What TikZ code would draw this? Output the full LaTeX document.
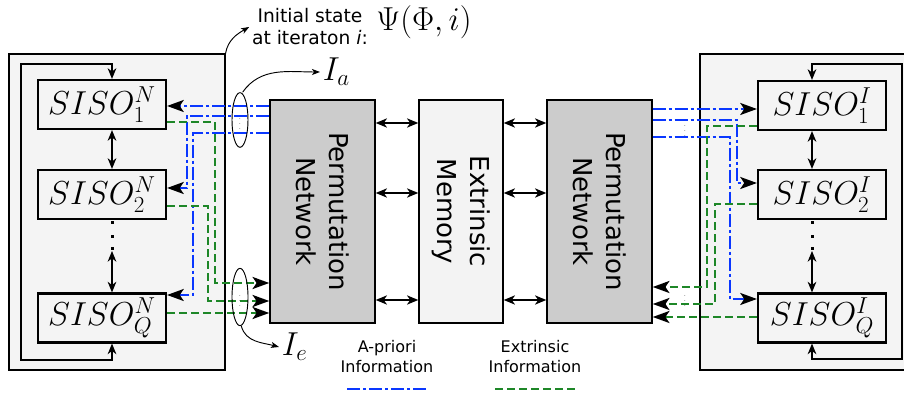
\documentclass[tikz,border=0pt]{standalone}
\usepackage{fontspec}
\newfontfamily\dejavu{DejaVu Sans}
\usetikzlibrary{arrows.meta,positioning,shapes.geometric}
\definecolor{apblue}{RGB}{10,55,255}
\definecolor{exgreen}{RGB}{30,135,40}
\definecolor{panelgray}{RGB}{244,244,244}
\definecolor{netgray}{RGB}{204,204,204}
\definecolor{memgray}{RGB}{243,243,243}
\tikzset{
  panel/.style={draw, line width=0.8pt, fill=panelgray, inner sep=0pt},
  siso/.style={draw, line width=1.6pt, fill=panelgray, minimum width=96pt,
    minimum height=36.75pt, inner sep=0pt, font=\fontsize{24.5}{28}\selectfont},
  netbox/.style={draw, line width=1.1pt, fill=netgray, minimum width=78.75pt,
    minimum height=167.25pt, inner sep=0pt},
  membox/.style={netbox, fill=memgray, minimum width=63pt},
  rottext/.style={rotate=-90, align=center, font=\dejavu\fontsize{19.5}{24.5}\selectfont},
  apriori/.style={apblue, line width=1.8pt,
    dash pattern=on 9.75pt off 2.25pt on 2.25pt off 2.25pt},
  extr/.style={exgreen, line width=1.8pt, dash pattern=on 6pt off 3pt},
  flow/.style={-{Stealth[length=12.5pt,width=9pt,inset=3pt,color=black]}},
  dbl/.style={line width=0.9pt, {Stealth[length=8.5pt,width=7pt,inset=2.5pt]}-{Stealth[length=8.5pt,width=7pt,inset=2.5pt]}},
  feedback/.style={line width=1.1pt, {Stealth[length=8pt,width=6.5pt,inset=2.5pt]}-{Stealth[length=8pt,width=6.5pt,inset=2.5pt]}},
  ell/.style={draw, ellipse, line width=0.7pt, minimum width=12pt, inner sep=0pt},
  pointer/.style={line width=0.7pt, -{Stealth[length=6pt,width=4.5pt,inset=1.5pt]}},
  smalltext/.style={font=\dejavu\fontsize{14}{16.5}\selectfont, align=center, inner sep=2pt},
  legtext/.style={font=\dejavu\fontsize{12}{15}\selectfont, align=center}
}
\begin{document}
\begin{tikzpicture}[x=0.75pt,y=-0.75pt]
  \useasboundingbox (0,0) rectangle (904,398);
  % panels with the decoders
  \node[panel, minimum width=162pt, minimum height=237pt] (panN) at (117,212) {};
  \node[panel, minimum width=159pt, minimum height=237pt] (panI) at (806,212) {};
  % decoders, left
  \node[siso] (s1) at (102,104.5) {$SISO_1^N$};
  \node[siso] (s2) at (102,194.5) {$SISO_2^N$};
  \node[siso] (sQ) at (102,318) {$SISO_Q^N$};
  % decoders, right
  \node[siso] (t1) at (822,105.5) {$SISO_1^I$};
  \node[siso] (t2) at (822,194.5) {$SISO_2^I$};
  \node[siso] (tQ) at (822,318) {$SISO_Q^I$};
  % middle blocks
  \node[netbox] (pnL) at (322.5,211.5) {};
  \node[rottext] at (pnL.center) {Permutation\\Network};
  \node[membox] (mem) at (461,211.5) {};
  \node[rottext] at (mem.center) {Extrinsic\\Memory};
  \node[netbox] (pnR) at (599.5,211.5) {};
  \node[rottext] at (pnR.center) {Permutation\\Network};
  % memory access
  \foreach \yy in {123,193,300} {
    \draw[dbl] (pnL.east |- 0,\yy) -- (mem.west |- 0,\yy);
    \draw[dbl] (mem.east |- 0,\yy) -- (pnR.west |- 0,\yy);
  }
  % feedback loops
  \draw[feedback] ([xshift=7.5pt]s1.north) |- (21,64) |- (112,360)
    -- ([xshift=7.5pt]sQ.south);
  \draw[feedback] ([xshift=-7.5pt]t1.north) |- (902,64) |- (812,359)
    -- ([xshift=-7.5pt]tQ.south);
  % chain of decoders
  \draw[feedback] ([xshift=7.5pt]s1.south) -- ([xshift=7.5pt]s2.north);
  \draw[feedback] ([xshift=7.5pt]sQ.north) -- (112,251);
  \draw[feedback] ([xshift=-7.5pt]t1.south) -- ([xshift=-7.5pt]t2.north);
  \draw[feedback] ([xshift=-7.5pt]tQ.north) -- (812,251);
  \foreach \yy in {223,237,249} {
    \fill (110.5,\yy-1.5) rectangle ++(3,3);
    \fill (810.5,\yy-1.5) rectangle ++(3,3);
  }
  % a-priori information, left
  \draw[apriori,flow] (pnL.west |- 0,106) -- (s1.east |- 0,106);
  \draw[apriori,flow] (pnL.west |- 0,116) -| (187,188) -- (s2.east |- 0,188);
  \draw[apriori,flow] (pnL.west |- 0,133) -| (193,295) -- (sQ.east |- 0,295);
  % extrinsic information, left
  \draw[extr,flow] (s1.east |- 0,122) -| (215,283) -- (pnL.west |- 0,283);
  \draw[extr,flow] (s2.east |- 0,206) -| (208,301) -- (pnL.west |- 0,301);
  \draw[extr,flow] (sQ.east |- 0,313) -- (pnL.west |- 0,313);
  % a-priori information, right
  \draw[apriori,flow] (pnR.east |- 0,109) -- (t1.west |- 0,109);
  \draw[apriori,flow] (pnR.east |- 0,120) -| (737,183) -- (t2.west |- 0,183);
  \draw[apriori,flow] (pnR.east |- 0,137) -| (730,299) -- (tQ.west |- 0,299);
  % extrinsic information, right
  \draw[extr,flow] (t1.west |- 0,126) -| (707,287) -- (pnR.east |- 0,287);
  \draw[extr,flow] (t2.west |- 0,204) -| (715,304) -- (pnR.east |- 0,304);
  \draw[extr,flow] (tQ.west |- 0,317) -- (pnR.east |- 0,317);
  \node[font=\tiny] at (685,127) {$\vdots$};
  \node[font=\tiny] at (685,297) {$\vdots$};
  % bundles
  \node[ell, minimum height=41pt] (bunA) at (240,120) {\tiny$\vdots$};
  \node[ell, minimum height=43pt] (bunE) at (240,297) {\tiny$\vdots$};
  \node[font=\fontsize{23}{26}\selectfont, anchor=west, inner sep=2pt] (Ia) at (320,72) {$I_a$};
  \node[font=\fontsize{23}{26}\selectfont, anchor=west, inner sep=2pt] (Ie) at (279,347) {$I_e$};
  \draw[pointer] ([xshift=2pt]bunA.north) to[out=55,in=180] (Ia.west);
  \draw[pointer] ([xshift=1pt]bunE.south) to[out=-75,in=165] (Ie.west);
  % initial state
  \node[smalltext] (init) at (310,27) {Initial state\\at iteraton {\itshape i}:};
  \node[font=\fontsize{25}{28}\selectfont] (psi) at (424,22) {$\Psi(\Phi,i)$};
  \draw[pointer] (panN.north east) to[out=80,in=210] (init.west);
  % legend
  \node[legtext] (lgA) at (387,357) {A-priori\\Information};
  \node[legtext] (lgE) at (535,357) {Extrinsic\\Information};
  \draw[apriori] (347,389) -- (427,389);
  \draw[extr] (495,389) -- (575,389);
\end{tikzpicture}
\end{document}
